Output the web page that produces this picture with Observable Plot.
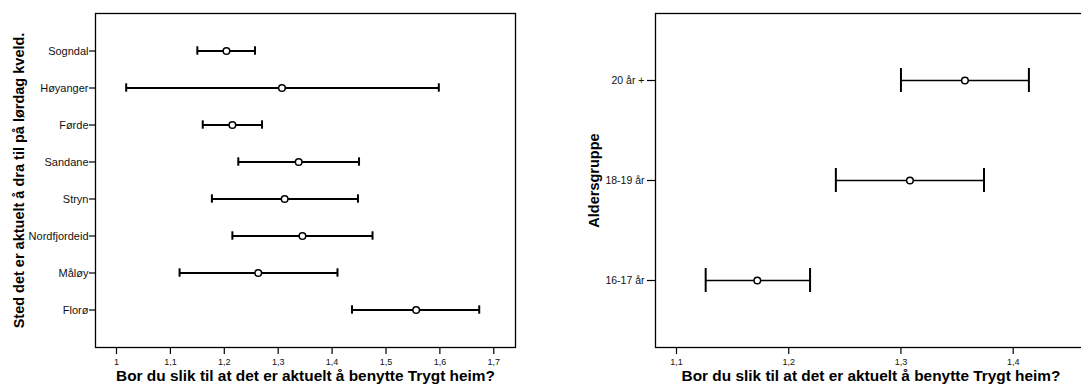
<!DOCTYPE html>
<html>
<head>
<meta charset="utf-8">
<script src="https://cdn.jsdelivr.net/npm/d3@7"></script>
<script src="https://cdn.jsdelivr.net/npm/@observablehq/plot@0.6"></script>
<style>
  html, body { margin: 0; padding: 0; background: white; overflow: hidden; width: 1081px; height: 387px; }
  #left { position: absolute; left: 0; top: 0; }
  #right { position: absolute; left: 560px; top: 0; }
  svg { max-width: none !important; }
</style>
</head>
<body>
<div id="left"></div>
<div id="right"></div>
<script>
// ---- Data: left panel (place) ----
const leftCats = ["Sogndal", "Høyanger", "Førde", "Sandane", "Stryn", "Nordfjordeid", "Måløy", "Florø"];
const leftMean = [1.204, 1.307, 1.215, 1.338, 1.312, 1.345, 1.263, 1.556];
const leftLow  = [1.150, 1.018, 1.160, 1.226, 1.177, 1.215, 1.117, 1.437];
const leftHigh = [1.257, 1.598, 1.270, 1.450, 1.448, 1.475, 1.410, 1.673];
const leftTicks = [1, 1.1, 1.2, 1.3, 1.4, 1.5, 1.6, 1.7];
const leftYTitle = "Sted det er aktuelt å dra til på lørdag kveld.";

// ---- Data: right panel (age group) ----
const rightCats = ["20 år +", "18-19 år", "16-17 år"];
const rightMean = [1.357, 1.308, 1.172];
const rightLow  = [1.300, 1.242, 1.126];
const rightHigh = [1.414, 1.374, 1.219];
const rightTicks = [1.1, 1.2, 1.3, 1.4];
const rightYTitle = "Aldersgruppe";

const xTitle = "Bor du slik til at det er aktuelt å benytte Trygt heim?";

const fmt = d => String(+d.toFixed(1)).replace(".", ",");

function buildChart(o) {
  const data = o.cats.map((c, i) => ({cat: c, mean: o.mean[i], lo: o.low[i], hi: o.high[i]}));
  return Plot.plot({
    width: o.width,
    height: 387,
    marginLeft: 95,
    marginRight: o.marginRight,
    marginTop: 13,
    marginBottom: 40,
    style: {fontFamily: "'Liberation Sans', Arial, sans-serif", color: "#111", background: "white", overflow: "visible"},
    x: {domain: o.xDomain},
    y: {type: "band", domain: o.cats, paddingInner: 0, paddingOuter: o.padOuter},
    marks: [
      Plot.ruleY(data, {y: "cat", x1: "lo", x2: "hi", stroke: "black", strokeWidth: o.lineW}),
      Plot.tickX(data, {y: "cat", x: "lo", stroke: "black", strokeWidth: 2, insetTop: o.capInset, insetBottom: o.capInset}),
      Plot.tickX(data, {y: "cat", x: "hi", stroke: "black", strokeWidth: 2, insetTop: o.capInset, insetBottom: o.capInset}),
      Plot.dot(data, {y: "cat", x: "mean", r: 3.3, stroke: "black", fill: "white", strokeWidth: 1.5}),
      Plot.frame({stroke: "black", strokeWidth: 1.3}),
      Plot.axisY({tickSize: o.yTickSize, tickPadding: o.yTickPad, fontSize: o.yFont, label: null, stroke: "black", strokeWidth: 1.2}),
      Plot.axisX({ticks: o.ticks, tickFormat: fmt, tickSize: 7, tickPadding: 4, fontSize: 9, label: null, stroke: "black", strokeWidth: 1.2}),
      Plot.text([xTitle], {text: d => d, frameAnchor: "bottom", dy: 33, fontWeight: "bold", fontSize: 15.4, fill: "black"}),
      Plot.text([o.yTitle], {text: d => d, frameAnchor: "left", textAnchor: "middle", lineAnchor: "middle", dx: o.yTitleDx, rotate: -90, fontWeight: "bold", fontSize: 14.5, fill: "black"})
    ]
  });
}

document.getElementById("left").append(buildChart({
  cats: leftCats, mean: leftMean, low: leftLow, high: leftHigh, ticks: leftTicks,
  yTitle: leftYTitle, width: 540, marginRight: 25,
  xDomain: [0.96104, 1.7403], padOuter: 0.43, capInset: 14.3, lineW: 2,
  yFont: 11, yTickSize: 6, yTickPad: 1, yTitleDx: -76
}));

document.getElementById("right").append(buildChart({
  cats: rightCats, mean: rightMean, low: rightLow, high: rightHigh, ticks: rightTicks,
  yTitle: rightYTitle, width: 540, marginRight: 14,
  xDomain: [1.08129, 1.46532], padOuter: 0.17, capInset: 38, lineW: 1.7,
  yFont: 10.5, yTickSize: 8, yTickPad: 3, yTitleDx: -61
}));
</script>
</body>
</html>
